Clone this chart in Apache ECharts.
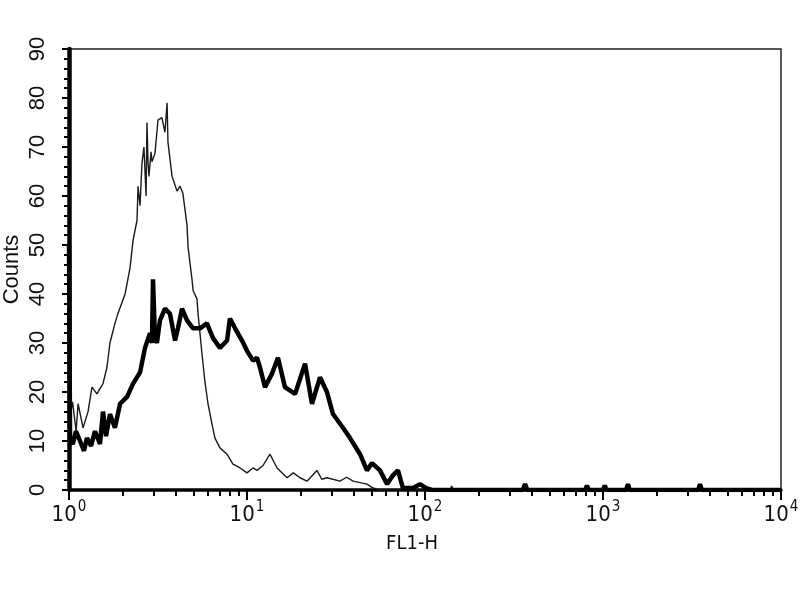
<!DOCTYPE html>
<html>
<head>
<meta charset="utf-8">
<script src="https://cdn.jsdelivr.net/npm/echarts@6/dist/echarts.min.js"></script>
<style>html,body{margin:0;padding:0;background:#fff}#c{width:800px;height:600px}</style>
</head>
<body>
<div id="c"></div>
<script>
// x positions are in decades: log10(FL1-H)
var thinX = [0, 0.02, 0.04, 0.051, 0.079, 0.107, 0.129, 0.157, 0.191, 0.213, 0.230, 0.258, 0.275, 0.315, 0.343, 0.360, 0.382, 0.388, 0.399, 0.410, 0.421, 0.433, 0.438, 0.444, 0.449, 0.461, 0.466, 0.483, 0.500, 0.522, 0.539, 0.551, 0.556, 0.579, 0.607, 0.624, 0.640, 0.663, 0.669, 0.691, 0.697, 0.719, 0.725, 0.747, 0.764, 0.781, 0.803, 0.820, 0.848, 0.888, 0.921, 0.961, 1.000, 1.034, 1.056, 1.090, 1.129, 1.169, 1.225, 1.260, 1.298, 1.337, 1.393, 1.420, 1.449, 1.522, 1.560, 1.596, 1.674, 1.708, 1.747, 2.14, 2.15, 2.16, 4.0];
var thinY = [14, 18, 12, 17.6, 12.7, 16, 21, 19.6, 21.7, 25, 30, 34, 36, 40, 45.4, 51, 55, 62, 58, 66.7, 70, 60, 75, 67, 64, 69, 67, 68.7, 75.5, 76, 73, 79, 71, 64, 61, 62, 60.5, 54, 49.5, 43, 40.7, 39, 36, 27.8, 22, 17.6, 13.5, 10.6, 8.6, 7.3, 5.3, 4.5, 3.5, 4.5, 4, 5, 7.3, 4.5, 2.5, 3.5, 2.5, 1.8, 4, 2.2, 2.5, 1.8, 2.6, 1.8, 1.2, 0.4, 0, 0, 0.8, 0, 0];

var thickX = [0, 0.006, 0.022, 0.039, 0.062, 0.084, 0.101, 0.124, 0.146, 0.174, 0.191, 0.208, 0.230, 0.258, 0.287, 0.326, 0.360, 0.399, 0.427, 0.455, 0.466, 0.472, 0.483, 0.494, 0.511, 0.539, 0.567, 0.596, 0.612, 0.635, 0.663, 0.697, 0.736, 0.775, 0.809, 0.848, 0.888, 0.904, 0.933, 0.972, 1.000, 1.034, 1.056, 1.073, 1.101, 1.140, 1.174, 1.213, 1.270, 1.326, 1.365, 1.410, 1.449, 1.483, 1.539, 1.579, 1.635, 1.674, 1.702, 1.747, 1.787, 1.820, 1.848, 1.876, 1.933, 1.972, 2.011, 2.04, 2.55, 2.562, 2.575, 2.90, 2.91, 2.92, 3.00, 3.01, 3.02, 3.13, 3.14, 3.15, 3.535, 3.545, 3.555, 4.0];
var thickY = [50, 10, 9.4, 12, 10, 8, 10.6, 9, 12, 9.4, 16, 11, 15.5, 12.7, 17.6, 19, 21.7, 24, 29, 32, 30, 43, 31, 30, 34.6, 37, 36, 30.5, 33, 37, 34.6, 33, 33, 34, 31, 29, 30.5, 35, 33, 30.5, 28.4, 26.4, 27, 25, 21, 23.7, 27, 21, 19.6, 25.8, 17.6, 23, 20, 15.5, 12.7, 10.6, 7.3, 4, 5.5, 4, 1.2, 3, 4, 0.4, 0.4, 1.2, 0.3, 0, 0, 1.2, 0, 0, 0.9, 0, 0, 0.9, 0, 0, 1.2, 0, 0, 1.2, 0, 0];

var yTicks = [0, 10, 20, 30, 40, 50, 60, 70, 80, 90];
var xDecades = [0, 1, 2, 3, 4];

function pairs(xs, ys) { return xs.map(function (x, i) { return [x, ys[i]]; }); }

var minorX = [];
xDecades.slice(0, 4).forEach(function (d) {
  for (var k = 2; k <= 9; k++) minorX.push(d + Math.log10(k));
});

var narrow = "'Liberation Sans Narrow', 'Arial Narrow', 'DejaVu Sans Condensed', sans-serif";
var regular = "'Liberation Sans', Arial, sans-serif";

var chart = echarts.init(document.getElementById('c'), null, { renderer: 'canvas' });
chart.setOption({
  animation: false,
  backgroundColor: '#fff',
  grid: { left: 69, right: 19, top: 49, bottom: 110, containLabel: false, outerBoundsMode: 'none',
    show: true, borderColor: '#222', borderWidth: 1.5, backgroundColor: 'transparent' },
  xAxis: [{
    type: 'value', min: 0, max: 4, interval: 1,
    name: 'FL1-H', nameLocation: 'middle', nameGap: 44, nameMoveOverlap: false,
    nameTextStyle: { fontFamily: narrow, fontSize: 20, color: '#111', padding: [0, 26, 0, 0] },
    axisLine: { show: true, onZero: false, lineStyle: { color: '#000', width: 3.5 } },
    axisTick: { show: true, inside: false, length: 10, lineStyle: { color: '#000', width: 2 } },
    splitLine: { show: false },
    axisLabel: {
      margin: 10,
      formatter: function (v) { return '{b|10}{s|' + v + '}'; },
      rich: {
        b: { fontFamily: narrow, fontSize: 22, color: '#111', verticalAlign: 'bottom' },
        s: { fontFamily: narrow, fontSize: 15, color: '#111', verticalAlign: 'bottom', padding: [0, 0, 11, 1] }
      }
    }
  }, {
    type: 'value', min: 0, max: 4, position: 'bottom',
    axisLine: { show: false },
    axisLabel: { show: false },
    splitLine: { show: false },
    axisTick: { show: true, length: 6, customValues: minorX, lineStyle: { color: '#000', width: 2 } }
  }],
  yAxis: {
    type: 'value', min: 0, max: 90, interval: 10,
    name: 'Counts', nameLocation: 'middle', nameGap: 46, nameRotate: 90, nameMoveOverlap: false,
    nameTextStyle: { fontFamily: regular, fontSize: 22, color: '#111' },
    axisLine: { show: true, lineStyle: { color: '#000', width: 4.5 } },
    axisTick: { show: true, length: 7, lineStyle: { color: '#000', width: 2 } },
    minorTick: { show: true, splitNumber: 5, length: 5, lineStyle: { color: '#000', width: 2 } },
    splitLine: { show: false },
    axisLabel: { rotate: 90, margin: 20, fontFamily: regular, fontSize: 22, color: '#111',
      formatter: function (v) { return yTicks.indexOf(v) >= 0 ? String(v) : ''; } }
  },
  series: [{
    type: 'line', name: 'control', xAxisIndex: 0, data: pairs(thinX, thinY),
    showSymbol: false, symbol: 'none',
    lineStyle: { color: '#1a1a1a', width: 1.4 }, z: 3
  }, {
    type: 'line', name: 'stained', xAxisIndex: 0, data: pairs(thickX, thickY),
    showSymbol: false, symbol: 'none',
    lineStyle: { color: '#000', width: 4.5 }, z: 4
  }]
});
</script>
</body>
</html>
